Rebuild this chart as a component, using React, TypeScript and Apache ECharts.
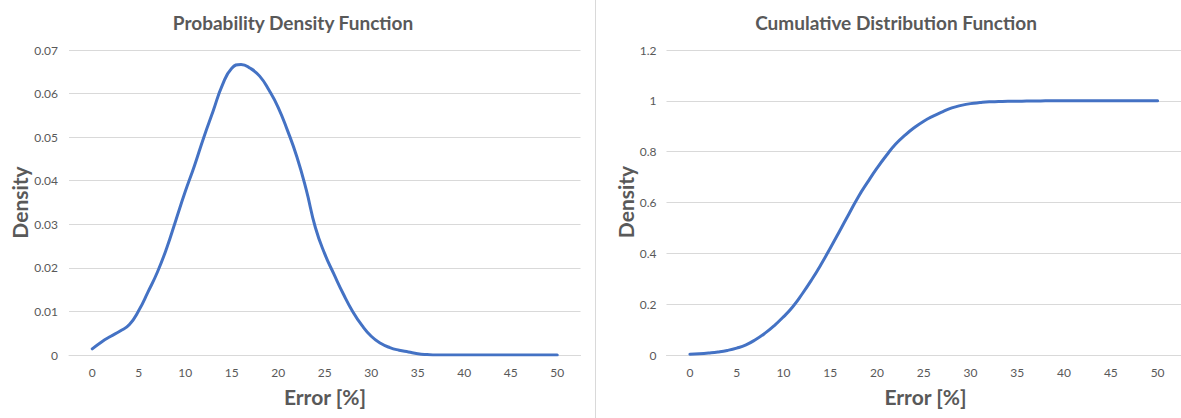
import React, { useEffect, useRef } from "react";
import * as echarts from "echarts";

const errorValues = [
  0, 1, 2, 3, 4, 5, 6, 7, 8, 9, 10, 11, 12, 13, 14, 15, 16, 17, 18, 19, 20, 21, 22, 23, 24, 25,
  26, 27, 28, 29, 30, 31, 32, 33, 34, 35, 36, 37, 38, 39, 40, 41, 42, 43, 44, 45, 46, 47, 48, 49, 50,
];
const pdfValues = [
  0.0014, 0.003, 0.0043, 0.0055, 0.007, 0.0102, 0.0145, 0.019, 0.0245, 0.031, 0.0375, 0.0435,
  0.05, 0.056, 0.062, 0.0658, 0.0667, 0.0658, 0.064, 0.0608, 0.0568, 0.0515, 0.0455, 0.038,
  0.0292, 0.0232, 0.0185, 0.014, 0.01, 0.0068, 0.0043, 0.0027, 0.0017, 0.0011, 0.0007, 0.0003,
  0.0001, 0, 0, 0, 0, 0, 0, 0, 0, 0, 0, 0, 0, 0, 0,
];
const cdfValues = [
  0.003, 0.005, 0.008, 0.012, 0.018, 0.027, 0.04, 0.06, 0.085, 0.115, 0.15, 0.19, 0.24, 0.295,
  0.355, 0.42, 0.487, 0.555, 0.622, 0.68, 0.735, 0.785, 0.83, 0.865, 0.895, 0.92, 0.94, 0.957,
  0.972, 0.982, 0.989, 0.993, 0.996, 0.997, 0.998, 0.998, 0.999, 0.999, 1, 1, 1, 1, 1, 1, 1, 1, 1,
  1, 1, 1, 1,
];
const xTickLabels = [0, 5, 10, 15, 20, 25, 30, 35, 40, 45, 50];

const pdfTitle = "Probability Density Function";
const cdfTitle = "Cumulative Distribution Function";
const xTitle = "Error [%]";
const yTitle = "Density";

const FONT = "Lato, 'Liberation Sans', sans-serif";
const TEXT_COLOR = "#595959";
const GRID_COLOR = "#D9D9D9";
const LINE_COLOR = "#4472C4";

export default function App() {
  const ref = useRef<HTMLDivElement>(null);

  useEffect(() => {
    document.body.style.margin = "0";
    if (!ref.current) return;
    const chart = echarts.init(ref.current, undefined, { renderer: "svg" });

    const xAxisBase = {
      type: "value" as const,
      min: -2.5,
      max: 52.5,
      axisLine: { show: true, onZero: false, lineStyle: { color: GRID_COLOR, width: 1 } },
      axisTick: { show: false },
      axisLabel: {
        color: TEXT_COLOR,
        fontSize: 12,
        fontFamily: FONT,
        margin: 11,
        customValues: xTickLabels,
        showMinLabel: true,
        showMaxLabel: true,
      },
      splitLine: { show: false },
    };
    const yAxisBase = {
      type: "value" as const,
      axisLine: { show: false },
      axisTick: { show: false },
      splitLine: { show: true, lineStyle: { color: GRID_COLOR, width: 1 } },
    };
    const titleStyle = {
      fontSize: 19,
      fontWeight: "bold" as const,
      fontFamily: FONT,
      fill: TEXT_COLOR,
      textAlign: "center" as const,
      textVerticalAlign: "middle" as const,
    };
    const axisTitleStyle = { ...titleStyle, fontSize: 21 };

    const lineSeries = (idx: number, ys: number[]) => ({
      type: "line" as const,
      xAxisIndex: idx,
      yAxisIndex: idx,
      data: errorValues.map((x, i) => [x, ys[i]]),
      smooth: 0.5,
      showSymbol: false,
      lineStyle: { color: LINE_COLOR, width: 3, cap: "round" as const, join: "round" as const },
      itemStyle: { color: LINE_COLOR },
    });

    chart.setOption({
      animation: false,
      backgroundColor: "#ffffff",
      grid: [
        { left: 69, top: 50, width: 511.5, height: 305 },
        { left: 666.5, top: 50, width: 518, height: 305 },
      ],
      xAxis: [
        { ...xAxisBase, gridIndex: 0 },
        { ...xAxisBase, gridIndex: 1 },
      ],
      yAxis: [
        {
          ...yAxisBase,
          gridIndex: 0,
          min: 0,
          max: 0.07,
          interval: 0.01,
          axisLabel: { color: TEXT_COLOR, fontSize: 12, fontFamily: FONT, margin: 11 },
        },
        {
          ...yAxisBase,
          gridIndex: 1,
          min: 0,
          max: 1.2,
          interval: 0.2,
          axisLabel: { color: TEXT_COLOR, fontSize: 12, fontFamily: FONT, margin: 10 },
        },
      ],
      series: [lineSeries(0, pdfValues), lineSeries(1, cdfValues)],
      graphic: [
        { type: "line", shape: { x1: 595.5, y1: 0, x2: 595.5, y2: 418 }, style: { stroke: GRID_COLOR, lineWidth: 1 } },
        { type: "text", x: 293, y: 22, style: { ...titleStyle, text: pdfTitle } },
        { type: "text", x: 896, y: 22, style: { ...titleStyle, text: cdfTitle } },
        { type: "text", x: 325, y: 396, style: { ...axisTitleStyle, text: xTitle } },
        { type: "text", x: 925.5, y: 396, style: { ...axisTitleStyle, text: xTitle } },
        { type: "text", x: 19.5, y: 202.5, rotation: Math.PI / 2, style: { ...axisTitleStyle, text: yTitle } },
        { type: "text", x: 625, y: 202, rotation: Math.PI / 2, style: { ...axisTitleStyle, text: yTitle } },
      ],
    });

    return () => chart.dispose();
  }, []);

  return <div ref={ref} style={{ width: 1181, height: 418 }} />;
}
